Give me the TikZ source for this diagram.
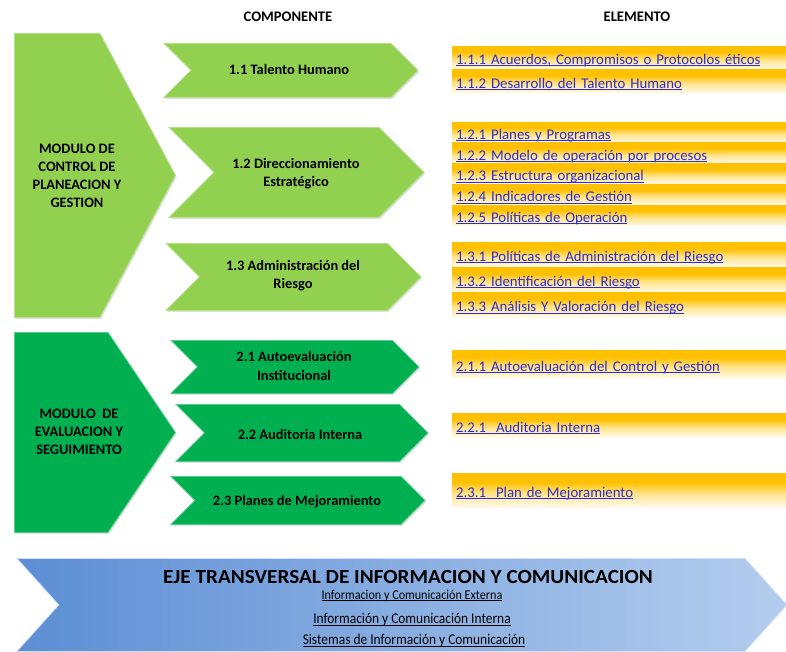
\documentclass[tikz,border=0pt]{standalone}
\usepackage{fontspec}
\setmainfont{Carlito}
\newfontfamily\condfont[FakeStretch=0.9]{Carlito}
\newfontfamily\ejefont[FakeStretch=1.06]{Carlito}
\usetikzlibrary{shapes.symbols,positioning,shadows}
\definecolor{lightgreen}{RGB}{146,208,80}
\definecolor{darkgreen}{RGB}{0,176,80}
\definecolor{barorange}{RGB}{255,192,0}
\definecolor{barlight}{RGB}{255,228,140}
\definecolor{linkblue}{RGB}{45,45,210}
\definecolor{ejeleft}{RGB}{92,142,212}
\definecolor{ejeright}{RGB}{180,205,238}
\pgfdeclareverticalshading{barshade}{100bp}{color(0bp)=(white); color(25bp)=(white!92!barorange); color(45bp)=(barlight); color(62bp)=(barorange); color(75bp)=(barorange); color(100bp)=(barorange)}
\newcommand\enlace[1]{\setbox0\hbox{#1}\rlap{\rule[-1.6pt]{\wd0}{0.8pt}}\box0}
\tikzset{
    modulo/.style={
        signal,
        signal to=east,
        signal from=nowhere,
        fill=#1,
        draw=#1!65!white,
        line width=0.8pt,
        drop shadow={shadow xshift=1.2pt, shadow yshift=-1.5pt, opacity=0.25},
        anchor=north west
    },
    componente/.style={
        signal,
        signal to=east,
        signal from=west,
        fill=#1,
        draw=#1!65!white,
        line width=0.8pt,
        drop shadow={shadow xshift=1.2pt, shadow yshift=-1.5pt, opacity=0.25},
        anchor=north west
    },
    modtext/.style={
        align=center,
        font=\bfseries\fontsize{14.4}{18.2}\selectfont
    },
    comptext/.style={
        align=center,
        font=\bfseries\fontsize{14.4}{18.2}\selectfont
    },
    elemento/.style={
        rectangle,
        shading=barshade,
        text width=326pt,
        align=left,
        inner xsep=4pt,
        inner ysep=0pt,
        text height=16pt,
        text depth=2pt,
        text=linkblue,
        font=\fontsize{14.8}{16}\selectfont
    },
    encabezado/.style={
        font=\bfseries\fontsize{14.6}{16}\selectfont
    },
    subtexto/.style={
        inner sep=0pt,
        font=\condfont\fontsize{14.9}{16}\selectfont
    }
}
\begin{document}
\begin{tikzpicture}[x=1pt, y=-1pt, node distance=0pt]
\useasboundingbox (0,0) rectangle (786,652);

% encabezados
\node[encabezado] (comp-head) at (288,17) {COMPONENTE};
\node[encabezado] (elem-head) at (637,17) {ELEMENTO};

% modulos
\node[modulo=lightgreen, minimum width=161pt, minimum height=284pt, signal pointer angle=124] (mod1) at (14,33) {};
\node[modtext] (mod1-text) at (77,176) {MODULO DE\\CONTROL DE\\PLANEACION Y\\GESTION};
\node[modulo=darkgreen, minimum width=161pt, minimum height=200pt, signal pointer angle=112] (mod2) at (14,332) {};
\node[modtext] (mod2-text) at (79,432) {MODULO~ DE\\EVALUACION Y\\SEGUIMIENTO};

% componentes
\node[componente=lightgreen, minimum width=254pt, minimum height=54pt] (c11) at (163,43) {};
\node[componente=lightgreen, minimum width=255pt, minimum height=90pt] (c12) at (168,127) {};
\node[componente=lightgreen, minimum width=255pt, minimum height=67pt] (c13) at (165,243) {};
\node[componente=darkgreen, minimum width=248pt, minimum height=53pt] (c21) at (170,340) {};
\node[componente=darkgreen, minimum width=252pt, minimum height=57pt] (c22) at (175,404) {};
\node[componente=darkgreen, minimum width=254pt, minimum height=48pt] (c23) at (170,476) {};
\node[comptext] (c11-text) at (289,70) {1.1 Talento Humano};
\node[comptext] (c12-text) at (296,174) {1.2 Direccionamiento\\Estratégico};
\node[comptext] (c13-text) at (293,276) {1.3 Administración del\\Riesgo};
\node[comptext] (c21-text) at (294,366) {2.1 Autoevaluación\\Institucional};
\node[comptext] (c22-text) at (300,434) {2.2 Auditoria Interna};
\node[comptext] (c23-text) at (297,502) {2.3 Planes de Mejoramiento};

% elementos 1.1
\node[elemento, minimum height=23pt, anchor=north west] (e111) at (452,46) {\enlace{1.1.1 Acuerdos, Compromisos o Protocolos éticos}};
\node[elemento, minimum height=23pt, below=of e111] (e112) {\enlace{1.1.2 Desarrollo del Talento Humano}};
% elementos 1.2
\node[elemento, minimum height=20.4pt, anchor=north west] (e121) at (452,122) {\enlace{1.2.1 Planes y Programas}};
\node[elemento, minimum height=20.4pt, below=of e121] (e122) {\enlace{1.2.2 Modelo de operación por procesos}};
\node[elemento, minimum height=20.4pt, below=of e122] (e123) {\enlace{1.2.3 Estructura organizacional}};
\node[elemento, minimum height=20.4pt, below=of e123] (e124) {\enlace{1.2.4 Indicadores de Gestión}};
\node[elemento, minimum height=20.4pt, below=of e124] (e125) {\enlace{1.2.5 Políticas de Operación}};
% elementos 1.3
\node[elemento, minimum height=24.7pt, anchor=north west] (e131) at (452,242) {\enlace{1.3.1 Políticas de Administración del Riesgo}};
\node[elemento, minimum height=24.7pt, below=of e131] (e132) {\enlace{1.3.2 Identificación del Riesgo}};
\node[elemento, minimum height=24.7pt, below=of e132] (e133) {\enlace{1.3.3 Análisis Y Valoración del Riesgo}};
% elementos 2.x
\node[elemento, minimum height=28pt, anchor=north west] (e211) at (452,350) {\enlace{2.1.1 Autoevaluación del Control y Gestión}};
\node[elemento, minimum height=24pt, anchor=north west] (e221) at (452,413) {\enlace{2.2.1~ Auditoria Interna}};
\node[elemento, minimum height=34pt, anchor=north west] (e231) at (452,473) {\enlace{2.3.1~ Plan de Mejoramiento}};

% eje transversal
\node[signal, signal from=west, signal to=east, signal pointer angle=96, left color=ejeleft, right color=ejeright, draw=ejeright!60!white, line width=0.8pt, minimum width=770pt, minimum height=93pt, anchor=north west] (eje) at (16,558) {};
\node[inner sep=0pt, font=\ejefont\bfseries\fontsize{20}{22}\selectfont] (eje-title) at (408,577) {EJE TRANSVERSAL DE INFORMACION Y COMUNICACION};
\node[subtexto, font=\condfont\fontsize{13.5}{15}\selectfont] (eje-ext) at (412,596) {\enlace{Informacion y Comunicación Externa}};
\node[subtexto] (eje-int) at (412,620) {\enlace{Información y Comunicación Interna}};
\node[subtexto] (eje-sis) at (414,641) {\enlace{Sistemas de Información y Comunicación}};
\end{tikzpicture}
\end{document}
